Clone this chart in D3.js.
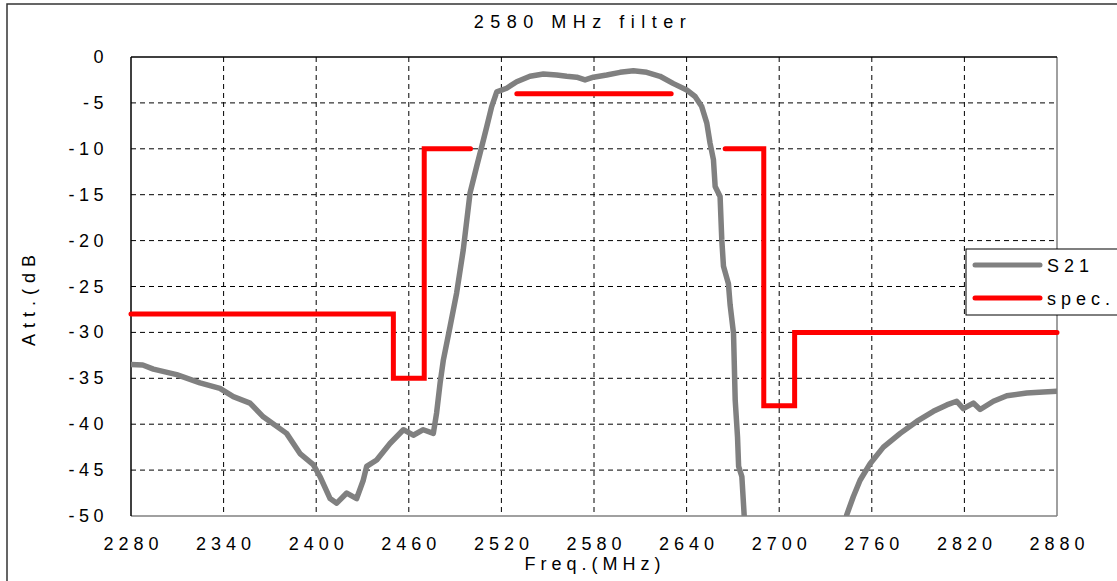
<!DOCTYPE html>
<html>
<head>
<meta charset="utf-8">
<script src="https://cdn.jsdelivr.net/npm/d3@7"></script>
<style>
  body { margin: 0; background: #fff; }
  text { font-family: "Liberation Sans", Arial, sans-serif; fill: #000; }
</style>
</head>
<body>
<svg id="chart" width="1117" height="581"></svg>
<script>
// S21 trace (MHz, dB)
const s21Freq = [2280,2287.6,2294.5,2309.6,2324.7,2337.6,2346.3,2357.1,2365.7,2380.8,2389.5,2398.1,2402.5,2409,2413.3,2419.8,2426.2,2430.5,2432.7,2439.2,2447.8,2456.5,2462.9,2469.4,2475.9,2478,2480.3,2482.4,2486.7,2491,2495.3,2499.7,2504,2507.2,2510.5,2513.7,2517,2523.4,2529.9,2538.5,2547.2,2555.8,2562.3,2568.8,2574.2,2579.6,2588.2,2596.9,2605.5,2614.2,2622.8,2631.5,2640.1,2645.5,2649.8,2653.1,2655.2,2657.4,2658.5,2661.7,2662.8,2663.9,2667.1,2668.2,2670.4,2671.5,2673,2673.7,2675.8,2677.3,2678,2710,2743,2743.7,2748,2752.4,2758.9,2767.5,2778.4,2789.1,2799.9,2808.6,2815,2819.3,2825.8,2830.2,2838.8,2847.5,2860.4,2871.2,2880]
const s21Att = [-33.5,-33.55,-34.0,-34.6,-35.5,-36.1,-37.0,-37.7,-39.2,-41.0,-43.2,-44.4,-45.7,-48.1,-48.6,-47.5,-48.1,-46.1,-44.6,-43.9,-42.1,-40.6,-41.2,-40.6,-41.0,-38.8,-35.5,-33.0,-29.4,-25.7,-21.0,-14.8,-11.9,-9.8,-7.6,-5.4,-3.8,-3.4,-2.7,-2.1,-1.85,-1.96,-2.1,-2.2,-2.5,-2.2,-1.96,-1.67,-1.5,-1.67,-2.1,-2.9,-3.6,-4.3,-5.4,-7.2,-9.4,-11.2,-14.1,-15.2,-19.9,-22.8,-24.7,-27,-30.1,-37.4,-41.4,-44.6,-45.7,-49.9,-53,-60,-53,-49.9,-47.9,-46.1,-44.3,-42.5,-41.0,-39.7,-38.6,-37.9,-37.5,-38.3,-37.7,-38.4,-37.5,-36.9,-36.6,-36.5,-36.4]

// spec mask, three separate pieces
const specLowFreq = [2280,2450,2450,2470,2470,2500]
const specLowAtt = [-28,-28,-35,-35,-10,-10]
const specPassFreq = [2530,2630]
const specPassAtt = [-4,-4]
const specHighFreq = [2665,2690,2690,2710,2710,2880]
const specHighAtt = [-10,-10,-38,-38,-30,-30]

const xTicks = [2280,2340,2400,2460,2520,2580,2640,2700,2760,2820,2880]
const yTicks = [0,-5,-10,-15,-20,-25,-30,-35,-40,-45,-50]

const svg = d3.select("#chart")
const m = {left: 131, top: 57, right: 1057, bottom: 516}

const x = d3.scaleLinear().domain([2280, 2880]).range([m.left, m.right])
const y = d3.scaleLinear().domain([-50, 0]).range([m.bottom, m.top])

// outer chart border
svg.append("rect")
  .attr("x", 7).attr("y", 4).attr("width", 1130).attr("height", 600)
  .attr("fill", "none").attr("stroke", "#333").attr("stroke-width", 1.5)

svg.append("defs").append("clipPath").attr("id", "plotClip")
  .append("rect").attr("x", m.left).attr("y", m.top)
  .attr("width", m.right - m.left).attr("height", m.bottom - m.top)

svg.append("defs").append("clipPath").attr("id", "titleClip")
  .append("rect").attr("x", 0).attr("y", 256).attr("width", 60).attr("height", 200)

// grid
const grid = svg.append("g").attr("stroke", "#000").attr("stroke-width", 1).attr("stroke-dasharray", "5,4")
grid.selectAll(".vg").data(xTicks.slice(1, -1)).join("line")
  .attr("x1", d => x(d)).attr("x2", d => x(d)).attr("y1", m.top).attr("y2", m.bottom)
grid.selectAll(".hg").data(yTicks.slice(1, -1)).join("line")
  .attr("x1", m.left).attr("x2", m.right).attr("y1", d => y(d)).attr("y2", d => y(d))

// frame
svg.append("line").attr("x1", m.left).attr("x2", m.right).attr("y1", m.bottom).attr("y2", m.bottom).attr("stroke", "#808080").attr("stroke-width", 1.5)
svg.append("line").attr("x1", m.right).attr("x2", m.right).attr("y1", m.top).attr("y2", m.bottom).attr("stroke", "#808080").attr("stroke-width", 1.5)
svg.append("line").attr("x1", m.left).attr("x2", m.right).attr("y1", m.top).attr("y2", m.top).attr("stroke", "#000").attr("stroke-width", 1.5)
svg.append("line").attr("x1", m.left).attr("x2", m.left).attr("y1", m.top).attr("y2", m.bottom).attr("stroke", "#000").attr("stroke-width", 1.5)

// tick labels
svg.append("g").selectAll("text").data(xTicks).join("text")
  .attr("x", d => x(d) + 2.5).attr("y", 550)
  .attr("text-anchor", "middle").attr("font-size", 18).attr("letter-spacing", 5)
  .text(d => d)
svg.append("g").selectAll("text").data(yTicks).join("text")
  .attr("x", 108).attr("y", d => y(d) + 6)
  .attr("text-anchor", "end").attr("font-size", 18).attr("letter-spacing", 4.5)
  .text(d => d)

// titles
svg.append("text").attr("x", 583).attr("y", 28).attr("text-anchor", "middle")
  .attr("font-size", 18).attr("letter-spacing", 6.5).text("2580 MHz filter")
svg.append("text").attr("x", 595).attr("y", 570).attr("text-anchor", "middle")
  .attr("font-size", 18).attr("letter-spacing", 5).text("Freq.(MHz)")
svg.append("g").attr("clip-path", "url(#titleClip)")
  .append("text").attr("transform", "translate(35,346) rotate(-90)")
  .attr("font-size", 18).attr("letter-spacing", 6).text("Att.(dB)")

// series
const line = d3.line().x(d => x(d[0])).y(d => y(d[1]))
const plot = svg.append("g").attr("clip-path", "url(#plotClip)")

plot.append("path").datum(d3.zip(s21Freq, s21Att))
  .attr("d", line).attr("fill", "none").attr("stroke", "#808080")
  .attr("stroke-width", 5.5).attr("stroke-linejoin", "round").attr("stroke-linecap", "round")

const specs = [[specLowFreq, specLowAtt], [specPassFreq, specPassAtt], [specHighFreq, specHighAtt]]
svg.append("g").selectAll("path").data(specs.map(s => d3.zip(s[0], s[1]))).join("path")
  .attr("d", line).attr("fill", "none").attr("stroke", "#ff0000")
  .attr("stroke-width", 5).attr("stroke-linejoin", "miter").attr("stroke-linecap", "round")

// legend
const leg = svg.append("g")
leg.append("rect").attr("x", 966).attr("y", 249).attr("width", 160).attr("height", 66)
  .attr("fill", "#fff").attr("stroke", "#000").attr("stroke-width", 1)
const legItems = [["S21", "#808080"], ["spec.", "#ff0000"]]
legItems.forEach((it, i) => {
  const ly = 265 + i * 33
  leg.append("line").attr("x1", 975).attr("x2", 1040).attr("y1", ly).attr("y2", ly)
    .attr("stroke", it[1]).attr("stroke-width", 5).attr("stroke-linecap", "round")
  leg.append("text").attr("x", 1047).attr("y", ly + 7).attr("font-size", 18)
    .attr("letter-spacing", 5).text(it[0])
})
</script>
</body>
</html>
